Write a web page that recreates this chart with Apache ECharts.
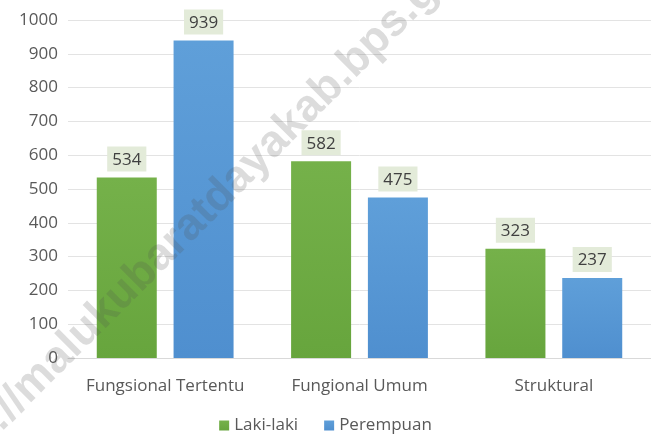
<!DOCTYPE html>
<html>
<head>
<meta charset="utf-8">
<script src="https://cdn.jsdelivr.net/npm/echarts@6/dist/echarts.min.js"></script>
<style>
  html, body { margin: 0; padding: 0; background: #fff; }
  #main { width: 651px; height: 441px; }
</style>
</head>
<body>
<div id="main"></div>
<script>
var categories = ['Fungsional Tertentu', 'Fungional Umum', 'Struktural'];
var lakiLaki = [534, 582, 323];
var perempuan = [939, 475, 237];
var seriesNames = ['Laki-laki', 'Perempuan'];

var myChart = echarts.init(document.getElementById('main'));
var fontName = 'Open Sans';

// label with the light box above every bar
var valueLabel = {
	show: true,
	position: 'top',
	distance: 6,
	color: '#404040',
	fontFamily: fontName,
	fontSize: 17,
	backgroundColor: '#e3ebd9',
	padding: [5, 5, 3, 5]
};

var option = {
	animation: false,
	backgroundColor: '#ffffff',
	grid: {
		left: 68,
		top: 20,
		width: 588,
		height: 338
	},
	legend: {
		bottom: 2,
		left: 'center',
		itemWidth: 10,
		itemHeight: 10,
		itemGap: 26,
		icon: 'rect',
		textStyle: { color: '#595959', fontFamily: fontName, fontSize: 17 },
		data: seriesNames
	},
	xAxis: {
		type: 'category',
		data: categories,
		axisLine: { lineStyle: { color: '#d9d9d9' } },
		axisTick: { show: false },
		axisLabel: { interval: 0, color: '#595959', fontFamily: fontName, fontSize: 17, margin: 20 }
	},
	yAxis: {
		type: 'value',
		min: 0,
		max: 1000,
		interval: 100,
		axisLine: { show: false },
		axisTick: { show: false },
		splitLine: { lineStyle: { color: '#e3e3e3' } },
		axisLabel: {
			color: '#595959', fontFamily: fontName, fontSize: 17, margin: 10,
			formatter: function (v) { return String(v); }
		}
	},
	series: [{
		name: seriesNames[0],
		type: 'bar',
		data: lakiLaki,
		barWidth: 60,
		barGap: '28%',
		itemStyle: {
			color: new echarts.graphic.LinearGradient(0, 0, 0, 1, [
				{ offset: 0, color: '#75b14a' },
				{ offset: 1, color: '#67a53d' }
			])
		},
		label: valueLabel
	}, {
		name: seriesNames[1],
		type: 'bar',
		data: perempuan,
		barWidth: 60,
		itemStyle: {
			color: new echarts.graphic.LinearGradient(0, 0, 0, 1, [
				{ offset: 0, color: '#5f9fd9' },
				{ offset: 1, color: '#4f8fcf' }
			])
		},
		label: valueLabel
	}],
	graphic: [{
		type: 'text',
		x: -68,
		y: 484,
		rotation: Math.PI / 4,
		z: 100,
		style: {
			text: 'http://malukubaratdayakab.bps.go.id',
			font: 'bold 45px "Liberation Sans"',
			fill: 'rgba(80,80,80,0.2)',
			textAlign: 'left',
			textVerticalAlign: 'middle'
		}
	}]
};
myChart.setOption(option);
</script>
</body>
</html>
